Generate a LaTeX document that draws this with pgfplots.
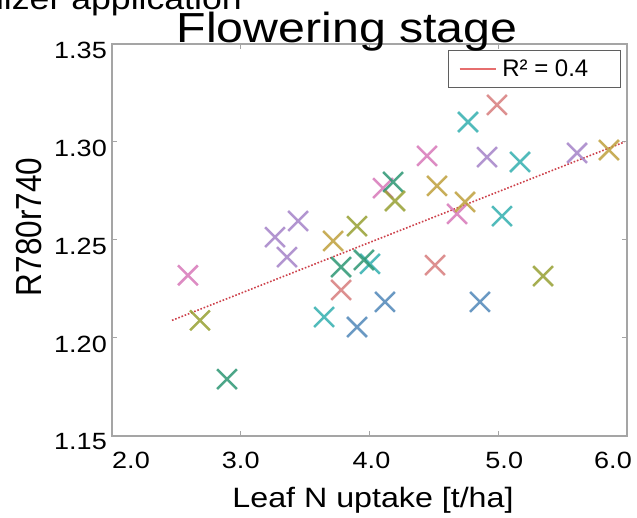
\documentclass[border=0pt]{standalone}
\usepackage{fontspec}
\setmainfont[FakeStretch=1.15]{Liberation Sans}
\newfontfamily\plainsans{Liberation Sans}
\usepackage{pgfplots}
\pgfplotsset{compat=1.18}
\definecolor{cpink}{RGB}{215,120,185}
\definecolor{cpurple}{RGB}{165,130,200}
\definecolor{cteal}{RGB}{50,175,175}
\definecolor{cgreen}{RGB}{45,150,115}
\definecolor{colive}{RGB}{150,160,50}
\definecolor{cmustard}{RGB}{190,160,60}
\definecolor{csalmon}{RGB}{215,125,125}
\definecolor{cblue}{RGB}{80,135,185}
\definecolor{ctrend}{RGB}{205,65,75}
\definecolor{clegline}{RGB}{230,110,110}
\definecolor{cframe}{RGB}{165,165,165}
\pgfplotsset{pt/.style={only marks, mark=x, mark size=14pt, line width=2.5pt, opacity=0.85, forget plot, #1}}
\begin{document}
\begin{tikzpicture}
\useasboundingbox (0,0) rectangle (637pt,518pt);
\clip (0,0) rectangle (637pt,518pt);
\begin{axis}[
  at={(112pt,82pt)}, anchor=south west,
  width=515pt, height=392pt, scale only axis,
  xmin=2, xmax=6, ymin=1.15, ymax=1.35,
  xtick={2,3,4,5,6},
  xticklabels={{\hspace*{38pt}2.0},3.0,{\hspace*{4pt}4.0},{\hspace*{12pt}5.0},{6.0\hspace*{28pt}}},
  ytick={1.15,1.20,1.25,1.30,1.35},
  yticklabels={1.15,1.20,1.25,1.30,1.35},
  /pgf/number format/assume math mode=true,
  tick label style={font=\fontsize{23.5}{28}\selectfont, inner sep=0pt},
  xticklabel style={anchor=north, yshift=-16pt},
  yticklabel style={anchor=east, xshift=-5pt, yshift=-6pt},
  axis line style={draw=cframe, line width=1.6pt},
  tick style={draw=cframe, line width=1pt},
  tick align=inside, major tick length=5pt,
  clip=false,
  legend style={at={(0.988,0.985)}, anchor=north east,
    draw={rgb,255:red,95;green,95;blue,95}, line width=1pt,
    inner xsep=10pt, inner ysep=7.5pt,
    font=\plainsans\fontsize{24}{28}\selectfont},
  legend cell align=left,
  legend image code/.code={\draw[draw=clegline, solid, line width=1.3pt] (4pt,0pt) -- (40pt,0pt);},
]
\addplot[pt=cpink] coordinates {(2.590,1.232) (4.105,1.2765) (4.447,1.2929) (4.680,1.2633)};
\addplot[pt=cpurple] coordinates {(3.266,1.2515) (3.359,1.2413) (3.445,1.2597) (4.913,1.2923) (5.612,1.2944)};
\addplot[pt=cteal] coordinates {(4.004,1.2378) (3.647,1.2107) (4.765,1.3102) (5.169,1.2898) (5.029,1.2622)};
\addplot[pt=cgreen] coordinates {(2.893,1.179) (3.779,1.2362) (3.957,1.2398) (4.183,1.2796)};
\addplot[pt=colive] coordinates {(2.683,1.209) (3.903,1.2571) (4.198,1.2699) (5.348,1.2316)};
\addplot[pt=cmustard] coordinates {(3.717,1.2495) (4.524,1.2776) (4.742,1.2694) (5.860,1.2959)};
\addplot[pt=csalmon] coordinates {(3.779,1.2245) (4.509,1.2372) (4.990,1.3189)};
\addplot[pt=cblue] coordinates {(3.903,1.2056) (4.120,1.2184) (4.858,1.2184)};
\addplot[ctrend, no marks, line width=1.6pt, dash pattern=on 1.6pt off 1.8pt] coordinates {(2.466,1.209) (5.98,1.300)};
\addlegendentry{\hspace*{4pt}R² = 0.4\hspace*{20pt}}
\end{axis}
\node[anchor=base east, inner sep=0pt, font=\fontsize{31}{36}\selectfont] at (242pt,508pt) {Fertilizer application};
\node[anchor=base, inner sep=0pt, font=\fontsize{42}{48}\selectfont] at (347pt,475pt) {Flowering stage};
\node[anchor=base, inner sep=0pt, font=\fontsize{28}{32}\selectfont] at (373pt,10pt) {Leaf N uptake [t/ha]};
\node[inner sep=0pt, font=\plainsans\fontsize{31.5}{36}\selectfont] at (29pt,291pt) {\scalebox{1.15}[1]{\rotatebox{90}{R780r740}}};
\end{tikzpicture}
\end{document}
